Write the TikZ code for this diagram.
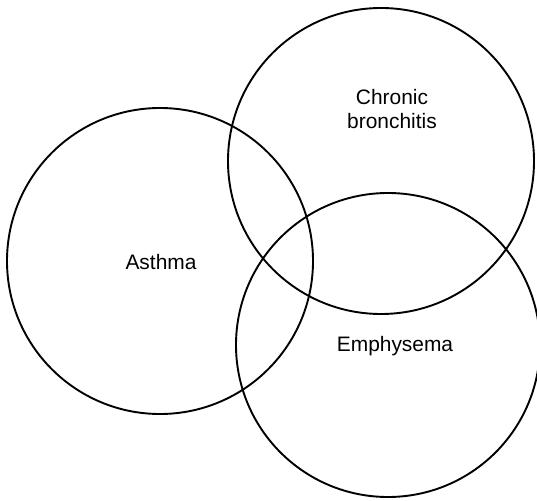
\documentclass[tikz,border=0pt]{standalone}
\usepackage{fontspec}
\setmainfont{Liberation Sans}
\begin{document}
\begin{tikzpicture}[x=1bp,y=-1bp,
  setcircle/.style={draw=black,line width=1.9bp},
  lbl/.style={font=\fontsize{21}{24}\selectfont,align=center,inner sep=0pt}]
\useasboundingbox (0,0) rectangle (537,501);
\fill[white] (0,0) rectangle (537,501);
\draw[setcircle] (160,261) circle[radius=153];
\draw[setcircle] (381,161) circle[radius=153];
\draw[setcircle] (388,345) circle[radius=152];
\node[lbl] (asthma) at (161,262) {Asthma};
\node[lbl] (chronic) at (392,109) {Chronic\\bronchitis};
\node[lbl] (emph) at (395,346) {Emphysema};
\end{tikzpicture}
\end{document}
